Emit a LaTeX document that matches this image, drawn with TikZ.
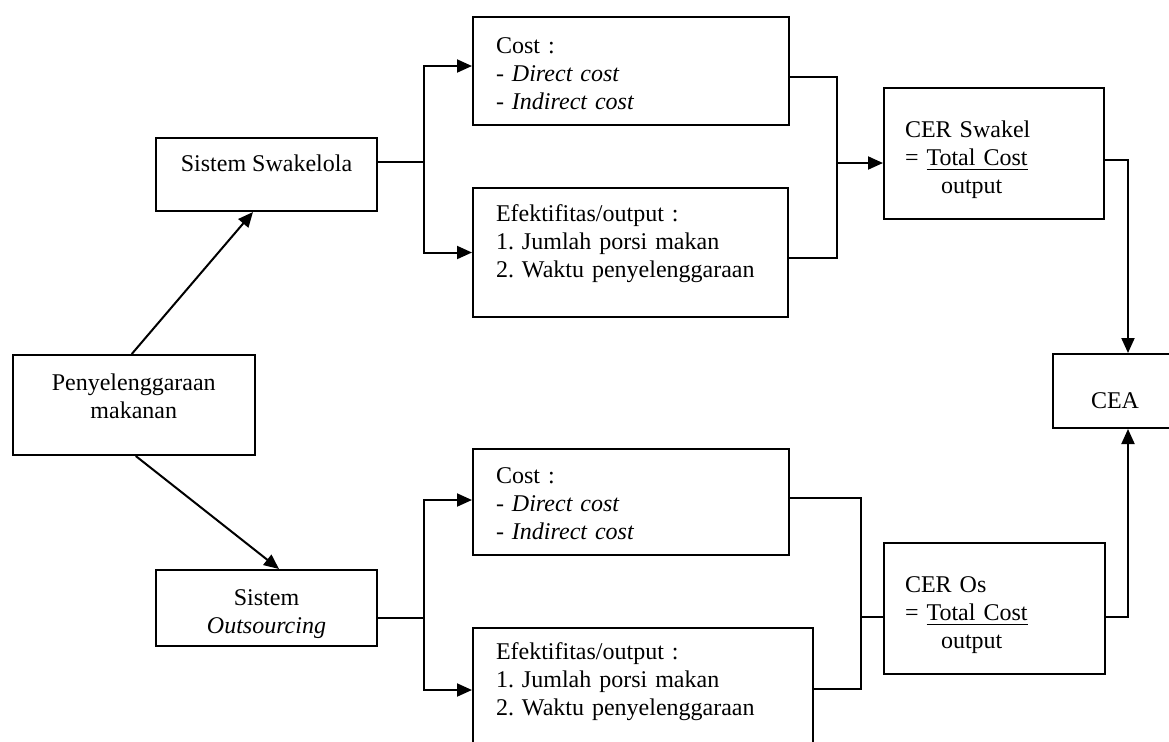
\documentclass[tikz,border=0pt]{standalone}
\usepackage{fontspec}
\setmainfont{Liberation Serif}
\usetikzlibrary{positioning,arrows.meta}
\frenchspacing

\begin{document}
\begin{tikzpicture}[x=0.5pt,y=-0.5pt]
	\tikzstyle{block}=[rectangle, draw=black, line width=1pt, fill=white, text=black,
	font=\fontsize{12}{14}\selectfont, inner sep=0pt]
	\tikzstyle{listblock}=[block, align=left, inner xsep=11.5pt]
	\tikzstyle{line}=[-, line width=1pt]
	\tikzstyle{arrow}=[line, -{Triangle[length=7.5pt,width=6.5pt]}]
	\clip (0,0) rectangle (1169,741);
	% left side
	\node (peny) [block, align=center, minimum width=120.75pt, minimum height=50pt, text depth=8.5pt] at (133.75,405)
	{Penyelenggaraan\\ makanan};
	\node (swa) [block, minimum width=110.5pt, minimum height=36.5pt, text depth=11pt] at (266.5,174.5)
	{Sistem Swakelola};
	\node (out) [block, align=center, minimum width=110.5pt, minimum height=38pt, text height=28.5pt] at (266.5,608)
	{Sistem\\ \textit{Outsourcing}};
	% middle boxes
	\node (cost1) [listblock, minimum height=54pt, text width=134.75pt, text height=10.5pt] at (630.75,71)
	{
		Cost :\\
		- \textit{Direct cost}\\
		- \textit{Indirect cost}
	};
	\node (efek1) [listblock, minimum height=64.5pt, text width=134.5pt, text depth=39pt] at (630.5,252.5)
	{
		Efektifitas/output :\\
		1. Jumlah porsi makan\\
		2. Waktu penyelenggaraan
	};
	\node (cost2) [listblock, minimum height=53pt, text width=134.75pt, text height=10pt] at (630.75,502)
	{
		Cost :\\
		- \textit{Direct cost}\\
		- \textit{Indirect cost}
	};
	\node (efek2) [listblock, minimum height=64.5pt, text width=147pt, text depth=41pt] at (643,692.5)
	{
		Efektifitas/output :\\
		1. Jumlah porsi makan\\
		2. Waktu penyelenggaraan
	};
	% ratios and result
	\node (cer1) [listblock, inner xsep=10.5pt, minimum height=65.5pt, text width=89pt, text height=15pt] at (994,153.5)
	{
		CER Swakel\\
		= \underline{Total Cost}\\
		\hspace*{18pt}output
	};
	\node (cer2) [listblock, inner xsep=10.5pt, minimum height=65.5pt, text width=89.5pt, text height=15pt] at (994.5,608.5)
	{
		CER Os\\
		= \underline{Total Cost}\\
		\hspace*{18pt}output
	};
	\node (cea) [block, minimum width=62pt, minimum height=37pt, text height=18pt] at (1115,391)
	{CEA};
	
	\coordinate (jl1) at (424,162);
	\coordinate (jl2) at (424,618);
	\coordinate (jr1) at (837,163);
	\coordinate (jr2) at (861,617);
	
	\draw[arrow] ([xshift=-1pt]peny.north) -- ([xshift=-6.75pt]swa.south);
	\draw[arrow] ([xshift=1pt]peny.south) -- ([xshift=6.25pt]out.north);
	
	\draw[line] (swa.east |- jl1) -- (jl1);
	\draw[arrow] (jl1) |- ([yshift=2.5pt]cost1.west);
	\draw[arrow] (jl1) |- (efek1.west);
	\draw[line] (out.east |- jl2) -- (jl2);
	\draw[arrow] (jl2) |- ([yshift=1pt]cost2.west);
	\draw[arrow] (jl2) |- ([yshift=1.25pt]efek2.west);
	
	\draw[line] ([yshift=-3pt]cost1.east) -| (jr1) |- ([yshift=-2.75pt]efek1.east);
	\draw[arrow] (jr1) -- (jr1 -| cer1.west);
	\draw[line] ([yshift=2pt]cost2.east) -| (jr2) |- ([yshift=1.75pt]efek2.east);
	\draw[line] (jr2) -- (jr2 -| cer2.west);
	
	\draw[arrow] ([yshift=-3.25pt]cer1.east) -| ([xshift=6.5pt]cea.north);
	\draw[arrow] ([yshift=-4.25pt]cer2.east) -| ([xshift=6.5pt]cea.south);
\end{tikzpicture}
\end{document}
